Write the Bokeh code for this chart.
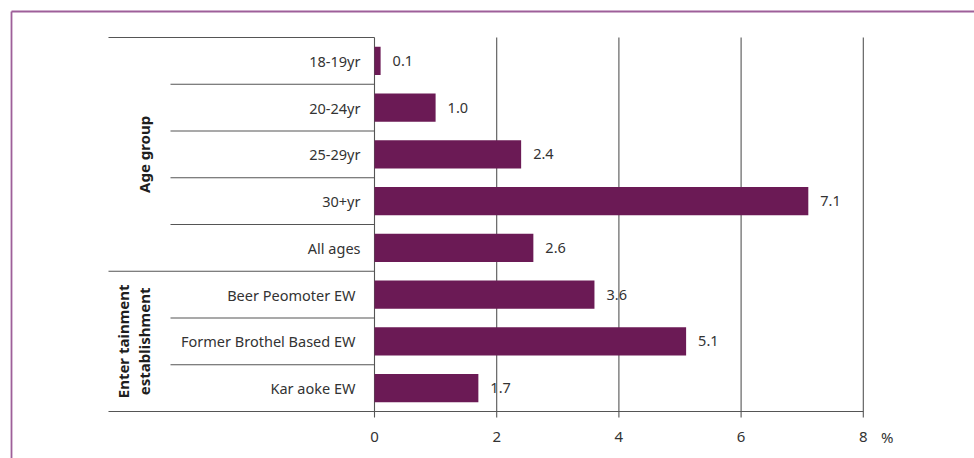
from math import pi
from bokeh.plotting import figure
from bokeh.models import Range1d, ColumnDataSource
from bokeh.core.properties import value
from bokeh.embed import file_html
from bokeh.resources import INLINE

# ---------------- data ----------------
categories = ["18-19yr", "20-24yr", "25-29yr", "30+yr", "All ages",
              "Beer Peomoter EW", "Former Brothel Based EW", "Kar aoke EW"]
values = [0.1, 1.0, 2.4, 7.1, 2.6, 3.6, 5.1, 1.7]
group_names = ["Age group", "Enter tainment\nestablishment"]
group_sizes = [5, 3]
x_ticks = [0, 2, 4, 6, 8]
unit_label = "%"

# ---------------- layout ----------------
W, H = 974, 458
X0_PX, PX_PER_UNIT = 374, 61.1
Y0_PX, ROW_PX = 37, 46.75

def xd(px):
    return (px - X0_PX) / PX_PER_UNIT

def yd(px):
    return (px - Y0_PX) / ROW_PX

FONT = value("Noto Sans")
TXT = "#333333"
LINE = "#555555"
BAR = "#6b1a55"
BORDER = "#9e5f99"

p = figure(width=W, height=H, output_backend="svg", toolbar_location=None,
           x_range=Range1d(xd(0), xd(W)), y_range=Range1d(yd(H), yd(0)),
           min_border=0, outline_line_color=None)
p.axis.visible = False
p.grid.visible = False
p.background_fill_color = "white"

# outer frame (decoration)
p.segment(x0=[xd(11), xd(11)], y0=[yd(11), yd(11)], x1=[xd(W + 5), xd(11)], y1=[yd(11), yd(H + 5)],
          line_color=BORDER, line_width=1.8)

n = len(categories)
rows = [i + 0.5 for i in range(n)]
tick_len = 6 / ROW_PX

# vertical grid lines (incl. zero axis) with ticks below baseline
p.segment(x0=x_ticks, x1=x_ticks, y0=[0] * len(x_ticks), y1=[n + tick_len] * len(x_ticks),
          line_color=LINE, line_width=1.1)

# horizontal separators
sep_y, sep_x0 = [0, n], [xd(108), xd(108)]
sep_x1 = [0, max(x_ticks)]
acc = 0
grp_idx = []
for gi, gs in enumerate(group_sizes):
    grp_idx += [gi] * gs
    for k in range(1, gs):
        sep_y.append(acc + k); sep_x0.append(xd(170)); sep_x1.append(0)
    acc += gs
    if gi < len(group_sizes) - 1:
        sep_y.append(acc); sep_x0.append(xd(108)); sep_x1.append(0)
p.segment(x0=sep_x0, x1=sep_x1, y0=sep_y, y1=sep_y, line_color=LINE, line_width=1.1)

# bars
src = ColumnDataSource(dict(y=rows, v=values, cat=categories,
                            lab=[f"{v:.1f}" for v in values],
                            off=[-14 - 5 * g for g in grp_idx]))
p.hbar(y="y", left=0, right="v", height=0.6, source=src, fill_color=BAR, line_color=None)

# value labels
p.text(x="v", y="y", text="lab", source=src, x_offset=12, text_font=FONT,
       text_font_size="14.5px", text_color=TXT, text_baseline="middle", text_align="left")

# category labels
p.text(x=0, y="y", text="cat", source=src, x_offset="off", text_font=FONT,
       text_font_size="14.5px", text_color=TXT, text_baseline="middle", text_align="right")

# group labels (rotated)
acc = 0
for name, gs in zip(group_names, group_sizes):
    lines = name.split("\n")
    mid = acc + gs / 2
    xs = [xd(143 - 21 * (len(lines) - 1 - j)) for j in range(len(lines))]
    p.text(x=xs, y=[mid] * len(lines), text=lines, angle=pi / 2, text_font=FONT,
           text_font_size="15px", text_font_style="bold", text_color="#1e1e1e",
           text_align="center", text_baseline="middle")
    acc += gs

# x tick labels
p.text(x=x_ticks, y=[yd(436)] * len(x_ticks), text=[str(t) for t in x_ticks], text_font=FONT,
       text_font_size="15px", text_color=TXT, text_align="center", text_baseline="middle")
p.text(x=[max(x_ticks)], y=[yd(436)], text=[unit_label], x_offset=24, text_font=FONT,
       text_font_size="15px", text_color=TXT, text_align="center", text_baseline="middle")

open("out.html", "w").write(file_html(p, INLINE))
